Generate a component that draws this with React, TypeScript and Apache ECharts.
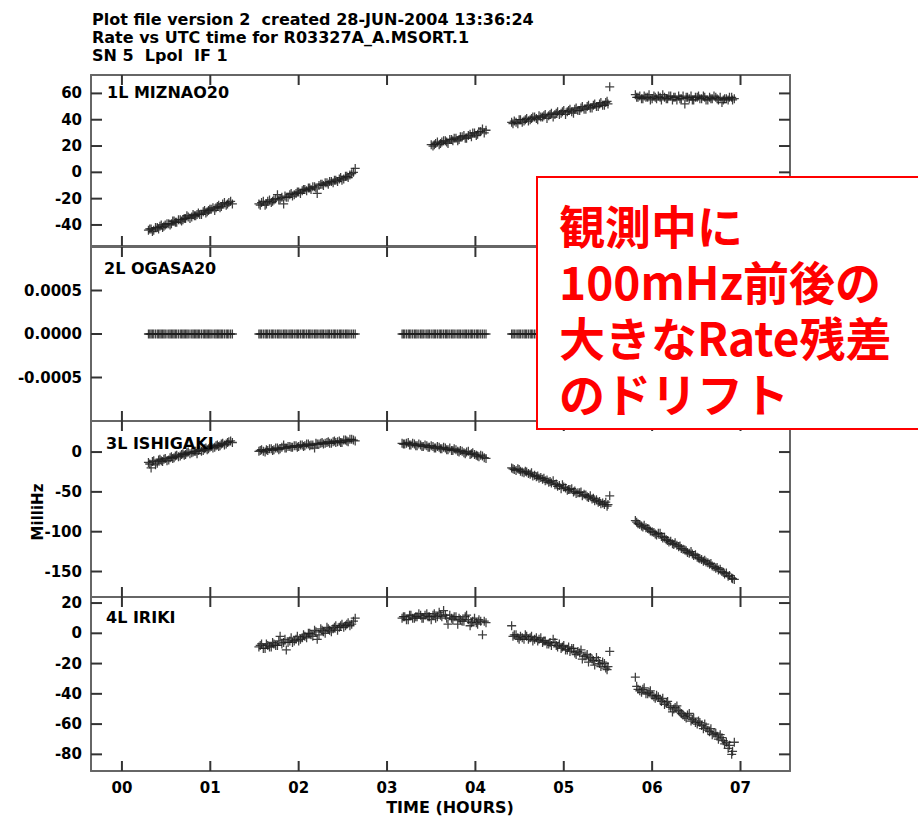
import React, { useEffect, useRef } from "react";
import * as echarts from "echarts";

// ---- time axis (hours) per scan segment, two interleaved sample sets ----
const timesA = [0.30,0.33,0.36,0.40,0.43,0.46,0.49,0.53,0.56,0.59,0.62,0.66,0.69,0.72,0.75,0.79,0.82,0.85,0.88,0.92,0.95,0.98,1.01,1.05,1.08,1.11,1.14,1.18,1.21,1.25];
const timesA2 = [0.315,0.345,0.38,0.415,0.445,0.475,0.51,0.545,0.575,0.605,0.64,0.675,0.705,0.735,0.77,0.805,0.835,0.865,0.90,0.935,0.965,0.995,1.03,1.065,1.095,1.125,1.16,1.195,1.23];
const timesB = [1.55,1.58,1.62,1.65,1.69,1.72,1.76,1.79,1.83,1.86,1.90,1.93,1.97,2.00,2.04,2.07,2.11,2.14,2.18,2.21,2.25,2.28,2.32,2.35,2.39,2.42,2.46,2.49,2.53,2.56,2.60,2.64];
const timesB2 = [1.565,1.60,1.635,1.67,1.705,1.74,1.775,1.81,1.845,1.88,1.915,1.95,1.985,2.02,2.055,2.09,2.125,2.16,2.195,2.23,2.265,2.30,2.335,2.37,2.405,2.44,2.475,2.51,2.545,2.58,2.62];
const timesC = [3.17,3.20,3.24,3.27,3.31,3.34,3.38,3.41,3.45,3.48,3.52,3.55,3.59,3.62,3.66,3.69,3.73,3.76,3.80,3.83,3.87,3.90,3.94,3.97,4.01,4.04,4.08,4.12];
const timesC2 = [3.185,3.22,3.255,3.29,3.325,3.36,3.395,3.43,3.465,3.50,3.535,3.57,3.605,3.64,3.675,3.71,3.745,3.78,3.815,3.85,3.885,3.92,3.955,3.99,4.025,4.06,4.10];
const timesD = [4.41,4.44,4.48,4.51,4.55,4.58,4.62,4.65,4.69,4.72,4.76,4.79,4.83,4.86,4.90,4.93,4.97,5.00,5.04,5.07,5.11,5.14,5.18,5.21,5.25,5.28,5.32,5.35,5.39,5.42,5.46,5.49,5.52];
const timesD2 = [4.425,4.46,4.495,4.53,4.565,4.60,4.635,4.67,4.705,4.74,4.775,4.81,4.845,4.88,4.915,4.95,4.985,5.02,5.055,5.09,5.125,5.16,5.195,5.23,5.265,5.30,5.335,5.37,5.405,5.44,5.475,5.50];
const timesE = [5.81,5.84,5.88,5.91,5.95,5.98,6.02,6.05,6.09,6.12,6.16,6.19,6.23,6.26,6.30,6.33,6.37,6.40,6.44,6.47,6.51,6.54,6.58,6.61,6.65,6.68,6.72,6.75,6.79,6.82,6.86,6.90,6.93];
const timesE2 = [5.825,5.86,5.895,5.93,5.965,6.00,6.035,6.07,6.105,6.14,6.175,6.21,6.245,6.28,6.315,6.35,6.385,6.42,6.455,6.49,6.525,6.56,6.595,6.63,6.665,6.70,6.735,6.77,6.805,6.84,6.875,6.91];

// ---- 1L MIZNAO20 (MilliHz) ----
const miznaoA = [-44,-43,-44,-42,-41,-42,-40,-39,-39,-37,-38,-36,-36,-35,-34,-34,-33,-32,-32,-30,-31,-29,-28,-29,-26,-27,-24,-25,-23,-24];
const miznaoA2 = [-43,-45,-42,-43,-40,-41,-39,-40,-37,-38,-36,-37,-35,-33,-35,-32,-33,-31,-32,-29,-30,-28,-27,-27,-25,-26,-23,-24,-22];
const miznaoB = [-24,-23,-25,-22,-23,-21,-17,-20,-24,-19,-17,-18,-16,-15,-14,-13,-12,-13,-11,-16,-9,-10,-8,-7,-8,-6,-5,-6,-3,-4,-1,3];
const miznaoB2 = [-25,-22,-24,-21,-22,-20,-21,-19,-18,-19,-16,-17,-15,-16,-13,-14,-12,-11,-12,-10,-9,-8,-9,-7,-6,-7,-4,-5,-3,-2,0];
const miznaoC = [null,null,null,null,null,null,null,null,null,null,20,22,21,23,24,22,25,26,24,27,28,26,29,30,28,31,33,32];
const miznaoC2 = [null,null,null,null,null,null,null,null,null,21,21,23,22,24,23,25,24,26,25,27,26,28,27,30,29,31,30];
const miznaoD = [38,39,37,40,39,41,40,42,41,43,42,44,43,45,44,46,45,47,46,48,45,49,47,50,48,51,49,52,50,53,51,54,65];
const miznaoD2 = [37,38,40,38,40,39,41,42,40,42,43,41,44,42,45,44,46,44,47,46,48,47,49,48,50,49,51,50,52,51,53,52];
const miznaoE = [59,57,56,58,57,55,58,56,57,59,56,58,55,57,58,56,52,57,58,55,57,56,58,55,57,56,57,55,53,56,55,57,56];
const miznaoE2 = [57,58,56,57,59,56,57,58,55,57,56,58,57,55,56,58,57,56,55,57,58,56,57,55,56,58,56,57,55,56,57,55];

// ---- 2L OGASA20 (reference antenna, all zero) ----
const ogasaA = [0,0,0,0,0,0,0,0,0,0,0,0,0,0,0,0,0,0,0,0,0,0,0,0,0,0,0,0,0,0];
const ogasaA2 = [0,0,0,0,0,0,0,0,0,0,0,0,0,0,0,0,0,0,0,0,0,0,0,0,0,0,0,0,0];
const ogasaB = [0,0,0,0,0,0,0,0,0,0,0,0,0,0,0,0,0,0,0,0,0,0,0,0,0,0,0,0,0,0,0,0];
const ogasaB2 = [0,0,0,0,0,0,0,0,0,0,0,0,0,0,0,0,0,0,0,0,0,0,0,0,0,0,0,0,0,0,0];
const ogasaC = [0,0,0,0,0,0,0,0,0,0,0,0,0,0,0,0,0,0,0,0,0,0,0,0,0,0,0,0];
const ogasaC2 = [0,0,0,0,0,0,0,0,0,0,0,0,0,0,0,0,0,0,0,0,0,0,0,0,0,0,0];
const ogasaD = [0,0,0,0,0,0,0,0,0,0,0,0,0,0,0,0,0,0,0,0,0,0,0,0,0,0,0,0,0,0,0,0,0];
const ogasaD2 = [0,0,0,0,0,0,0,0,0,0,0,0,0,0,0,0,0,0,0,0,0,0,0,0,0,0,0,0,0,0,0,0];
const ogasaE = [0,0,0,0,0,0,0,0,0,0,0,0,0,0,0,0,0,0,0,0,0,0,0,0,0,0,0,0,0,0,0,0,0];
const ogasaE2 = [0,0,0,0,0,0,0,0,0,0,0,0,0,0,0,0,0,0,0,0,0,0,0,0,0,0,0,0,0,0,0,0];

// ---- 3L ISHIGAKI ----
const ishigakiA = [-13,-20,-11,-14,-9,-12,-8,-10,-6,-7,-4,-5,-2,-3,0,-1,1,-2,3,2,5,4,7,6,9,8,11,10,13,12];
const ishigakiA2 = [-15,-12,-16,-10,-11,-9,-11,-7,-8,-5,-6,-3,-4,-1,-2,0,1,2,1,4,3,6,5,8,7,10,9,12,14];
const ishigakiB = [1,3,0,2,4,3,5,4,9,5,7,6,8,7,9,8,10,9,5,10,11,10,12,11,13,12,14,12,15,13,16,14];
const ishigakiB2 = [2,1,3,4,2,5,3,6,5,7,6,8,6,9,7,10,8,9,11,10,12,11,13,11,14,13,12,15,14,16,15];
const ishigakiC = [11,10,12,9,10,8,9,7,8,6,7,5,6,4,5,3,2,4,1,2,-1,0,-3,-1,-4,-6,-5,-8];
const ishigakiC2 = [10,11,9,11,8,10,7,9,6,8,5,7,4,6,3,5,2,3,0,1,-2,1,-2,-3,-5,-4,-7];
const ishigakiD = [-20,-22,-21,-24,-26,-25,-28,-30,-31,-33,-34,-36,-38,-39,-41,-43,-46,-44,-48,-47,-50,-52,-51,-55,-54,-57,-59,-61,-63,-65,-66,-68,-55];
const ishigakiD2 = [-21,-23,-22,-25,-24,-27,-26,-29,-30,-32,-33,-35,-37,-36,-40,-42,-41,-45,-47,-46,-49,-51,-50,-53,-56,-55,-58,-60,-62,-64,-63,-66];
const ishigakiE = [-86,-90,-93,-92,-96,-99,-101,-104,-102,-108,-110,-113,-115,-114,-119,-121,-123,-126,-125,-130,-132,-134,-137,-138,-141,-143,-146,-148,-150,-153,-156,-158,-160];
const ishigakiE2 = [-88,-91,-94,-95,-97,-100,-103,-102,-106,-107,-111,-112,-116,-117,-118,-122,-124,-127,-128,-129,-133,-135,-136,-139,-140,-144,-145,-147,-151,-152,-155,-159];

// ---- 4L IRIKI ----
const irikiB = [-9,-7,-10,-8,-9,-7,-8,-2,-6,-11,-5,-6,-4,-5,-3,-2,0,-1,2,-4,3,1,4,2,3,5,4,6,5,7,6,10];
const irikiB2 = [-8,-10,-7,-9,-6,-8,-5,-7,-4,-6,-3,-5,-2,-4,-1,-3,0,-2,1,-1,2,0,3,1,4,2,5,4,6,5,8];
const irikiC = [10,11,9,12,10,11,12,10,13,11,12,10,14,11,12,6,10,11,6,9,8,12,5,8,7,9,-1,7];
const irikiC2 = [11,9,12,10,11,13,10,12,11,9,13,11,12,15,10,12,9,11,10,8,11,9,7,10,6,8,8];
const irikiD = [5,-1,-3,-2,-4,-2,-3,-5,-3,-4,-6,-5,-7,-8,-6,-9,-10,-8,-11,-12,-10,-14,-13,-17,-15,-19,-17,-21,-18,-22,-20,-24,-12];
const irikiD2 = [-2,-1,-4,-3,-1,-4,-2,-4,-5,-3,-5,-7,-6,-4,-8,-7,-9,-11,-9,-10,-13,-12,-11,-15,-14,-16,-18,-16,-20,-19,-23,-22];
const irikiE = [-29,-37,-39,-36,-40,-38,-42,-41,-44,-43,-46,-48,-52,-49,-51,-53,-55,-54,-58,-56,-60,-59,-63,-62,-65,-67,-66,-70,-69,-73,-76,-80,-72];
const irikiE2 = [-35,-38,-37,-40,-39,-41,-43,-42,-45,-47,-45,-49,-50,-48,-52,-54,-56,-53,-57,-59,-58,-61,-60,-64,-63,-66,-68,-67,-71,-72,-74,-78];

// ---- axes ----
const xTicks = [0, 1, 2, 3, 4, 5, 6, 7];
const xTickLabels = ["00", "01", "02", "03", "04", "05", "06", "07"];
const xMin = -0.35;
const xMax = 7.56;

const panelNames = ["1L MIZNAO20", "2L OGASA20", "3L ISHIGAKI", "4L IRIKI"];
const yRanges = [[-56, 74], [-0.001, 0.001], [-182, 39], [-91, 24]];
const yTicks = [
  [-40, -20, 0, 20, 40, 60],
  [-0.0005, 0, 0.0005],
  [-150, -100, -50, 0],
  [-80, -60, -40, -20, 0, 20],
];

const titleLines = [
  "Plot file version 2  created 28-JUN-2004 13:36:24",
  "Rate vs UTC time for R03327A_A.MSORT.1",
  "SN 5  Lpol  IF 1",
];
const yAxisTitle = "MilliHz";
const xAxisTitle = "TIME (HOURS)";
const noteLines = ["観測中に", "100mHz前後の", "大きなRate残差", "のドリフト"];

function pairs(times: number[], vals: (number | null)[]) {
  const out: number[][] = [];
  times.forEach((t, i) => {
    const v = vals[i];
    if (v !== null && v !== undefined) out.push([t, v]);
  });
  return out;
}

const panelData = [
  [
    ...pairs(timesA, miznaoA), ...pairs(timesA2, miznaoA2),
    ...pairs(timesB, miznaoB), ...pairs(timesB2, miznaoB2),
    ...pairs(timesC, miznaoC), ...pairs(timesC2, miznaoC2),
    ...pairs(timesD, miznaoD), ...pairs(timesD2, miznaoD2),
    ...pairs(timesE, miznaoE), ...pairs(timesE2, miznaoE2),
  ],
  [
    ...pairs(timesA, ogasaA), ...pairs(timesA2, ogasaA2),
    ...pairs(timesB, ogasaB), ...pairs(timesB2, ogasaB2),
    ...pairs(timesC, ogasaC), ...pairs(timesC2, ogasaC2),
    ...pairs(timesD, ogasaD), ...pairs(timesD2, ogasaD2),
    ...pairs(timesE, ogasaE), ...pairs(timesE2, ogasaE2),
  ],
  [
    ...pairs(timesA, ishigakiA), ...pairs(timesA2, ishigakiA2),
    ...pairs(timesB, ishigakiB), ...pairs(timesB2, ishigakiB2),
    ...pairs(timesC, ishigakiC), ...pairs(timesC2, ishigakiC2),
    ...pairs(timesD, ishigakiD), ...pairs(timesD2, ishigakiD2),
    ...pairs(timesE, ishigakiE), ...pairs(timesE2, ishigakiE2),
  ],
  [
    ...pairs(timesB, irikiB), ...pairs(timesB2, irikiB2),
    ...pairs(timesC, irikiC), ...pairs(timesC2, irikiC2),
    ...pairs(timesD, irikiD), ...pairs(timesD2, irikiD2),
    ...pairs(timesE, irikiE), ...pairs(timesE2, irikiE2),
  ],
];

const GRID_LEFT = 91;
const GRID_WIDTH = 699;
const GRID_TOPS = [75, 247, 421, 597];
const GRID_HEIGHTS = [171, 174, 176, 174];

const FONT = '"DejaVu Sans", "Liberation Sans", sans-serif';
const CROSS = "path://M4.3,0H5.7V4.3H10V5.7H5.7V10H4.3V5.7H0V4.3H4.3Z";
const TICK_LEN = 10;
const TICK_STYLE = { stroke: "#333333", lineWidth: 2, fill: "none" };

function fmtY(i: number, v: number) {
  if (i === 1) return v.toFixed(4);
  return String(Math.round(v));
}

export default function App() {
  const ref = useRef<HTMLDivElement>(null);
  useEffect(() => {
    if (!ref.current) return;
    const chart = echarts.init(ref.current, null, { renderer: "svg" });

    const frameLine = { show: true, onZero: false, lineStyle: { color: "#666", width: 2 } };
    const labelStyle = { fontFamily: FONT, fontWeight: "bold" as const, fontSize: 15, color: "#000" };

    const grid = GRID_TOPS.map((top, i) => ({
      left: GRID_LEFT,
      width: GRID_WIDTH,
      top,
      height: GRID_HEIGHTS[i],
      show: false,
    }));

    const xAxis: any[] = [];
    const yAxis: any[] = [];
    for (let i = 0; i < 4; i++) {
      for (const pos of ["bottom", "top"]) {
        const withText = i === 3 && pos === "bottom";
        xAxis.push({
          gridIndex: i,
          type: "value",
          position: pos,
          min: xMin,
          max: xMax,
          axisLine: frameLine,
          splitLine: { show: false },
          axisTick: { show: false },
          axisLabel: {
            show: withText,
            customValues: xTicks,
            margin: 9,
            ...labelStyle,
            formatter: (v: number) => {
              const k = xTicks.indexOf(Math.round(v));
              return k >= 0 ? xTickLabels[k] : "";
            },
          },
        });
      }
      for (const pos of ["left", "right"]) {
        const withText = pos === "left";
        yAxis.push({
          gridIndex: i,
          type: "value",
          position: pos,
          min: yRanges[i][0],
          max: yRanges[i][1],
          axisLine: frameLine,
          splitLine: { show: false },
          axisTick: { show: false },
          axisLabel: {
            show: withText,
            customValues: yTicks[i],
            margin: 9,
            ...labelStyle,
            formatter: (v: number) => fmtY(i, v),
          },
        });
      }
    }

    const scatterSeries = panelData.map((data, i) => ({
      type: "scatter",
      xAxisIndex: i * 2,
      yAxisIndex: i * 2,
      data,
      symbol: CROSS,
      symbolSize: 9,
      itemStyle: { color: "#1e1e1e", opacity: 0.85 },
      silent: true,
      z: 3,
    }));

    const panelLabelPos = [[107, 92], [104, 268], [106, 443], [106, 617]];

    const baseGraphic: any[] = [
      ...titleLines.map((t, k) => ({
        type: "text",
        x: 92,
        y: [19, 37, 55][k],
        style: { text: t, font: `bold 16px ${FONT}`, fill: "#000", textVerticalAlign: "middle" },
      })),
      ...panelNames.map((t, k) => ({
        type: "text",
        x: panelLabelPos[k][0],
        y: panelLabelPos[k][1],
        z: 10,
        style: { text: t, font: `bold 16px ${FONT}`, fill: "#000", textVerticalAlign: "middle" },
      })),
      {
        type: "text",
        x: 450,
        y: 807,
        style: { text: xAxisTitle, font: `bold 16px ${FONT}`, fill: "#000", textAlign: "center", textVerticalAlign: "middle" },
      },
      {
        type: "text",
        x: 38,
        y: 512,
        rotation: Math.PI / 2,
        style: { text: yAxisTitle, font: `bold 15px ${FONT}`, fill: "#000", textAlign: "center", textVerticalAlign: "middle" },
      },
    ];

    const noteGraphic: any[] = [
      {
        type: "rect",
        z: 50,
        shape: { x: 537, y: 177, width: 400, height: 252 },
        style: { fill: "#ffffff", stroke: "#ff0000", lineWidth: 2 },
      },
      {
        type: "text",
        z: 51,
        x: 559,
        y: 308,
        style: {
          text: noteLines.join("\n"),
          font: 'bold 46px "Noto Sans CJK JP", sans-serif',
          lineHeight: 56,
          fill: "#ff0000",
          textVerticalAlign: "middle",
        },
      },
    ];

    const baseOption: any = {
      animation: false,
      backgroundColor: "#ffffff",
      grid,
      xAxis,
      yAxis,
      series: scatterSeries,
    };
    chart.setOption(baseOption);

    // pixel position of a tick value, through the axis' own scale (with a linear fallback)
    const toPx = (i: number, v: number, isX: boolean) => {
      let r: any;
      try {
        r = chart.convertToPixel(isX ? ({ xAxisIndex: i * 2 } as any) : ({ yAxisIndex: i * 2 } as any), v);
      } catch (e) {
        r = undefined;
      }
      if (Array.isArray(r)) r = isX ? r[0] : r[1];
      if (typeof r !== "number" || !isFinite(r)) {
        if (isX) r = GRID_LEFT + ((v - xMin) / (xMax - xMin)) * GRID_WIDTH;
        else {
          const [lo, hi] = yRanges[i];
          r = GRID_TOPS[i] + GRID_HEIGHTS[i] - ((v - lo) / (hi - lo)) * GRID_HEIGHTS[i];
        }
      }
      return r;
    };

    const ticks: any[] = [];
    for (let i = 0; i < 4; i++) {
      const top = GRID_TOPS[i];
      const bottom = top + GRID_HEIGHTS[i];
      const left = GRID_LEFT;
      const right = GRID_LEFT + GRID_WIDTH;
      xTicks.forEach((v) => {
        const x = toPx(i, v, true);
        ticks.push({ type: "polyline", z: 20, silent: true, shape: { points: [[x, bottom], [x, bottom - TICK_LEN]] }, style: TICK_STYLE });
        ticks.push({ type: "polyline", z: 20, silent: true, shape: { points: [[x, top], [x, top + TICK_LEN]] }, style: TICK_STYLE });
      });
      yTicks[i].forEach((v) => {
        const y = toPx(i, v, false);
        ticks.push({ type: "polyline", z: 20, silent: true, shape: { points: [[left, y], [left + TICK_LEN + 1, y]] }, style: TICK_STYLE });
        ticks.push({ type: "polyline", z: 20, silent: true, shape: { points: [[right, y], [right - TICK_LEN - 1, y]] }, style: TICK_STYLE });
      });
    }

    chart.setOption({ ...baseOption, graphic: { elements: [...baseGraphic, ...ticks, ...noteGraphic] } }, true);

    return () => chart.dispose();
  }, []);

  return <div ref={ref} style={{ position: "fixed", left: 0, top: 0, width: 918, height: 816 }} />;
}
